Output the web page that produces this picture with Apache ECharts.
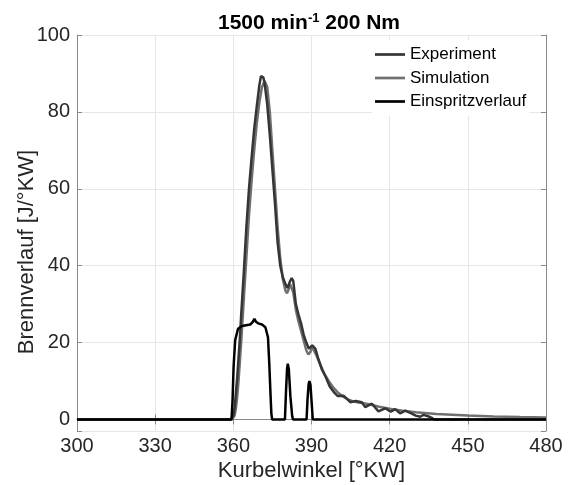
<!DOCTYPE html>
<html>
<head>
<meta charset="utf-8">
<script src="https://cdn.jsdelivr.net/npm/echarts@6/dist/echarts.min.js"></script>
<style>html,body{margin:0;padding:0;background:#fff}#c{width:569px;height:485px}</style>
</head>
<body>
<div id="c"></div>
<script>
// ---- data ----
const seriesNames = ['Experiment', 'Simulation', 'Einspritzverlauf'];
const xTickValues = [300, 330, 360, 390, 420, 450, 480];
const yTickValues = [0, 20, 40, 60, 80, 100];

const experiment = [
  [300,0],[359,0],[359.5,0.3],[360,1],[360.5,3],[361,7],[361.5,11],[362,16],[362.5,21],[363,27],
  [364,38],[365,50],[366,60],[367,68],[368,75.5],[369,81.5],[370,87],[370.6,89.3],[371,89.6],
  [371.5,89],[372,87.5],[373,82],[374,74],[375,65],[376,56],[377,46],[378,40],[379,37],[380,35.2],
  [380.8,34.2],[381.3,34.5],[381.8,36],[382.4,36.8],[383,36],[384,30],[385,27.3],[386,25],[387,22],
  [388,20],[389,18.4],[389.6,18.5],[390.3,19.3],[390.9,19.4],[391.5,18.4],[392.5,16],[394,13],
  [395.5,11],[397,8.6],[398.5,7.2],[400,6.1],[400.5,5.8],[402.3,6.2],[404.9,4.5],[407,4.8],[409.3,4.5],
  [410.6,3.2],[413.2,4.1],[415.7,2.1],[418.3,2.9],[420.4,2.0],[422.1,2.7],[424,1.6],[426,2.3],
  [428.5,1.5],[430,1.0],[431.7,0.7],[433,1.2],[434.5,0.9],[436,0.5],[437,0],[480,0]
];
const simulation = [
  [300,0],[359.5,0],[360,0.3],[360.5,1],[361,3],[361.5,6],[362,10],[362.5,15],[363,20],[364,31],
  [365,42],[366,53],[367,62],[368,70],[369,77],[370,82.5],[371,86.5],[372,88],[372.5,87.8],[373,86.5],
  [374,80],[375,70],[376,60],[377,50],[378,42],[379,36.5],[380,33.5],[380.6,32.8],[381.2,33.8],
  [381.8,35.2],[382.3,35.3],[383,33],[384,28.5],[385,25.5],[386,23],[387,20.5],[388,18],[388.8,16.9],
  [389.5,17.5],[390.3,18.8],[391,18.5],[392,16.5],[393.5,14],[395,11.8],[397,9.6],[398.5,8.2],
  [400,7.1],[402,6],[404,5.2],[406,4.7],[408,4.4],[410,4.2],[412.5,3.9],[416,3.3],[420,2.8],
  [425,2.3],[430,1.9],[438,1.45],[450,1.05],[460,0.8],[470,0.62],[480,0.5]
];
const injection = [
  [300,0],[359.3,0],[359.7,5],[360.1,13.7],[360.7,20.6],[361.8,23.6],[363.3,24.3],[366.5,24.7],
  [367.4,25.3],[368.1,26.2],[368.7,25.4],[369.5,25],[371,24.7],[372.3,24],[373.3,21.4],[373.8,14.5],
  [374.3,6],[374.6,1.5],[374.9,0],[379.8,0],[380.2,7],[380.6,13],[380.9,14.5],[381.3,13],
  [381.9,6],[382.6,0.8],[382.9,0],[388.1,0],[388.5,5.5],[388.9,9.2],[389.2,10],[389.6,9],
  [390.1,4],[390.5,0],[480,0]
];

const FONT = 'Liberation Sans, Arial, sans-serif';
const chart = echarts.init(document.getElementById('c'), null, {renderer: 'canvas'});
chart.setOption({
  animation: false,
  backgroundColor: '#ffffff',
  title: {
    text: '1500 min{sup|-1} 200 Nm',
    left: 304, top: 7, textAlign: 'center',
    textStyle: {
      fontFamily: FONT, fontSize: 21, fontWeight: 'bold', color: '#000',
      rich: { sup: { fontFamily: FONT, fontSize: 13, fontWeight: 'bold', verticalAlign: 'top', padding: [0,0,10,0], color: '#000' } }
    }
  },
  legend: {
    orient: 'vertical',
    left: 372, top: 40,
    padding: [6, 3, 6, 3],
    backgroundColor: '#ffffff',
    itemWidth: 30, itemHeight: 2.7, itemGap: 6.5,
    icon: 'rect',
    textStyle: { fontFamily: FONT, fontSize: 17, color: '#000' },
    data: seriesNames
  },
  grid: { left: 77, right: 23, top: 35, bottom: 54, containLabel: false, outerBoundsMode: 'none' },
  xAxis: [{
    type: 'value', min: 300, max: 480, interval: 30,
    name: 'Kurbelwinkel [°KW]', nameLocation: 'middle', nameGap: 29, nameMoveOverlap: false,
    nameTextStyle: { fontFamily: FONT, fontSize: 22, color: '#262626' },
    axisLine: { show: true, lineStyle: { color: '#8a8a8a', width: 1 } },
    axisTick: { show: true, inside: true, length: 5, lineStyle: { color: '#8a8a8a' } },
    axisLabel: { fontFamily: FONT, fontSize: 20, color: '#262626', margin: 5,
      formatter: v => xTickValues.includes(v) ? String(v) : '' },
    splitLine: { show: true, lineStyle: { color: '#e6e6e6', width: 1 } }
  }, {
    type: 'value', min: 300, max: 480, interval: 30, position: 'top',
    axisLine: { show: true, lineStyle: { color: '#8a8a8a', width: 1 } },
    axisTick: { show: true, inside: true, length: 5, lineStyle: { color: '#8a8a8a' } },
    axisLabel: { show: false }, splitLine: { show: false }
  }],
  yAxis: [{
    type: 'value', min: -3, max: 100, splitNumber: 5,
    name: 'Brennverlauf [J/°KW]', nameLocation: 'middle', nameGap: 39, nameRotate: 90, nameMoveOverlap: false,
    nameTextStyle: { fontFamily: FONT, fontSize: 22, color: '#262626', padding: [0, 38, 0, 0] },
    axisLine: { show: true, lineStyle: { color: '#8a8a8a', width: 1 } },
    axisTick: { show: true, inside: true, length: 5, lineStyle: { color: '#8a8a8a' } },
    axisLabel: { fontFamily: FONT, fontSize: 20, color: '#262626', margin: 7,
      formatter: v => yTickValues.includes(v) ? String(v) : '' },
    splitLine: { show: true, lineStyle: { color: '#e6e6e6', width: 1 } }
  }, {
    type: 'value', min: -3, max: 100, splitNumber: 5, position: 'right',
    axisLine: { show: true, lineStyle: { color: '#8a8a8a', width: 1 } },
    axisTick: { show: true, inside: true, length: 5, lineStyle: { color: '#8a8a8a' } },
    axisLabel: { show: false }, splitLine: { show: false }
  }],
  series: [
    { name: seriesNames[0], type: 'line', data: experiment, showSymbol: false, symbol: 'none',
      lineStyle: { color: '#353535', width: 2.5 }, itemStyle: { color: '#353535' }, z: 3 },
    { name: seriesNames[1], type: 'line', data: simulation, showSymbol: false, symbol: 'none',
      lineStyle: { color: '#707070', width: 2.5 }, itemStyle: { color: '#707070' }, z: 2 },
    { name: seriesNames[2], type: 'line', data: injection, showSymbol: false, symbol: 'none',
      lineStyle: { color: '#000000', width: 2.5 }, itemStyle: { color: '#000000' }, z: 4 }
  ]
});
</script>
</body>
</html>
